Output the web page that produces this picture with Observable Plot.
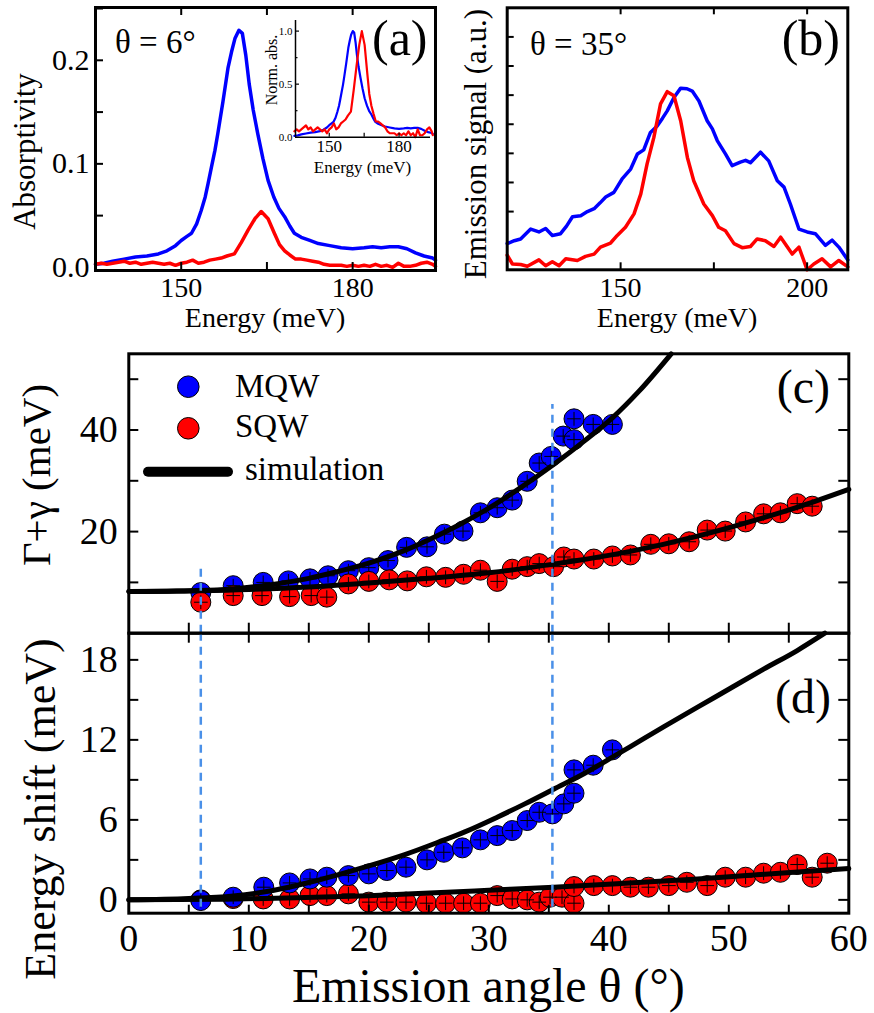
<!DOCTYPE html>
<html><head><meta charset="utf-8">
<script src="https://cdn.jsdelivr.net/npm/d3@7"></script>
<script src="https://cdn.jsdelivr.net/npm/@observablehq/plot@0.6"></script>
<style>
body{margin:0;background:#fff;}
#root{position:relative;width:874px;height:1013px;overflow:hidden;background:#fff;}
</style></head><body><div id="root"></div>
<script>
// ---------------- DATA ----------------
// (a) absorptivity at theta = 6 deg, [energy meV, absorptivity]
const absBlue = [[135,0.003],[136.5,0.004],[138,0.006],[140,0.008],[142,0.010],[144,0.011],[146,0.013],[147.5,0.016],[149,0.021],[150,0.026],[151,0.030],[151.8,0.033],[152.7,0.042],[153.5,0.055],[154.2,0.068],[154.7,0.081],[155.3,0.097],[155.9,0.113],[156.4,0.129],[157.3,0.160],[158.2,0.193],[158.8,0.208],[159.4,0.221],[160.1,0.229],[160.7,0.226],[161.3,0.205],[161.9,0.177],[162.6,0.152],[163.4,0.129],[164.3,0.105],[165.2,0.084],[166.2,0.068],[167.1,0.057],[168.1,0.049],[169,0.040],[169.8,0.033],[171,0.029],[172.5,0.026],[174,0.023],[176,0.021],[178,0.019],[180,0.018],[182,0.019],[183.5,0.020],[185,0.019],[186.5,0.020],[188,0.020],[189.5,0.018],[191,0.014],[192.5,0.011],[194,0.009],[194.5,0.007]];
const absRed = [[135,0.003],[136,0.004],[137,0.003],[138,0.004],[139,0.005],[140,0.006],[141,0.004],[142,0.005],[143,0.003],[144,0.004],[145,0.005],[146,0.004],[147,0.003],[148,0.004],[149,0.002],[150,0.004],[151,0.005],[152,0.007],[153,0.004],[154,0.005],[155,0.007],[156,0.008],[157,0.009],[158,0.011],[159.3,0.013],[160.5,0.024],[161.7,0.036],[162.9,0.047],[164,0.054],[165.2,0.047],[166.3,0.033],[167.2,0.022],[168.1,0.016],[169,0.012],[170,0.008],[171,0.008],[172,0.007],[173,0.006],[174,0.005],[175,0.003],[176,0.002],[177,0.002],[178,0.002],[179,0.001],[180,0.002],[181,0.001],[182,0.002],[183,0.001],[184,0.003],[185,0.001],[186,0.002],[187,0.000],[188,0.004],[189,0.001],[190,0.001],[191,0.002],[192,0.004],[193,0.005],[194,0.003],[194.5,0.001]];
const absXTicks = [150, 180];
const absYTicks = [0, 0.1, 0.2];

// (b) emission at theta = 35 deg, [energy meV, signal a.u.]
const emisBlue = [[119.6,0.45],[121.5,0.50],[123.2,0.53],[125.9,0.70],[128.1,0.65],[129.9,0.71],[131.7,0.59],[133.9,0.62],[135.5,0.75],[137.1,0.91],[139.3,0.93],[141.1,1.00],[142.9,1.05],[144.5,1.15],[146,1.25],[148.2,1.33],[150.4,1.56],[152.7,1.73],[154.5,1.99],[156.2,2.06],[158,2.36],[159.8,2.47],[161.2,2.60],[162.5,2.73],[164.3,2.96],[166.1,3.12],[167.8,3.11],[169.2,3.07],[171,2.90],[173.2,2.56],[174.6,2.42],[175.9,2.22],[178.1,1.99],[179.9,1.79],[182.1,1.85],[183.5,1.88],[184.8,1.84],[187.5,2.02],[189.7,1.87],[192,1.53],[193.8,1.42],[195.5,1.13],[197.8,0.70],[200,0.65],[202.2,0.62],[204.9,0.42],[206.7,0.51],[208.5,0.39],[210.9,0.17]];
const emisRed = [[119.6,0.25],[121,0.10],[123.2,0.09],[125,0.06],[128.1,0.17],[129.9,0.07],[131.7,0.14],[133.5,0.07],[135.3,0.19],[138.4,0.16],[140.6,0.23],[142.9,0.27],[144.6,0.39],[147.3,0.46],[149.1,0.59],[151.3,0.73],[153.6,0.96],[155.4,1.30],[157.1,1.82],[158.9,2.27],[160.7,2.85],[162.5,3.06],[164.3,2.99],[166.1,2.56],[167.9,1.93],[169.6,1.53],[172.3,1.13],[174.6,0.93],[176.3,0.73],[178.1,0.67],[180.4,0.45],[182.6,0.38],[184.8,0.40],[186.6,0.53],[188.8,0.50],[191.1,0.40],[192.9,0.56],[196,0.27],[197.8,0.39],[200,0.00],[201.8,0.10],[204,0.19],[206.3,0.05],[208.5,0.16],[210.9,0.05]];
const emisXTicks = [150, 200];

// (c) linewidth Gamma+gamma (meV) vs emission angle
const mqwAnglesC = [6,8.7,11.2,13.3,15.1,16.6,18.3,20.0,21.6,23.15,24.85,26.3,27.85,29.3,30.7,31.95,33.2,34.2,35.2,36.2,37.1,37.1,38.7,40.3];
const mqwWidth   = [8.0,9.35,10.0,10.3,10.7,11.3,12.3,12.9,14.3,16.9,17.0,19.5,20.1,23.7,24.7,26.2,29.9,33.5,34.8,38.8,38.1,42.2,41.1,41.1];
const sqwAnglesC = [6,8.7,11.1,13.4,15.2,16.5,18.3,20.0,21.7,23.2,24.8,26.4,27.9,29.3,30.7,31.95,33.2,34.2,35.4,36.25,37.1,38.75,40.3,41.8,43.5,45.0,46.7,48.2,49.7,51.4,52.9,54.3,55.7,56.95];
const sqwWidth   = [6.1,7.4,7.4,7.2,7.4,7.1,9.7,10.2,10.5,10.3,11.1,11.0,11.6,12.4,10.2,12.6,13.1,13.7,13.1,15.0,14.6,14.6,15.2,15.4,17.5,17.6,18.0,20.3,20.1,21.9,23.5,23.7,25.5,25.0];
const simWidthMQW = [[0,8.2],[4,8.3],[8,8.6],[12,9.6],[15,10.8],[17,11.9],[20,13.8],[23,16.3],[25,18.4],[27.5,21.3],[30,24.6],[32.5,28.4],[35.4,33.2],[38,37.9],[40.3,42.4],[42.5,47.6],[45.2,55]];
const simWidthSQW = [[0,8.2],[10,8.6],[15,9.1],[20,9.9],[25,10.8],[30,11.9],[35.4,13.6],[41.8,16.1],[47.4,19.1],[52,22.1],[56,25.0],[60,28.3]];

// (d) energy shift (meV) vs emission angle
const mqwAnglesD = [6,8.7,11.25,13.4,15.1,16.5,18.3,20.0,21.5,23.1,24.85,26.25,27.8,29.3,30.7,31.95,33.2,34.2,35.3,36.25,37.1,37.1,38.7,40.3];
const mqwShift   = [-0.05,0.2,0.95,1.27,1.57,1.7,1.82,1.95,2.2,2.45,3.0,3.57,3.9,4.5,4.82,5.2,5.95,6.57,6.45,7.2,8.0,9.75,10.1,11.25];
const sqwAnglesD = [6,8.7,11.2,13.4,15.1,16.5,18.3,20.0,21.5,23.1,24.8,26.4,27.9,29.3,30.7,31.95,33.2,34.2,35.1,36.1,37.1,37.1,38.75,40.3,41.8,43.3,45.0,46.5,48.2,49.7,51.4,52.9,54.3,55.7,56.95,58.2];
const sqwShift   = [0,0.1,0.07,0.07,0.32,0.32,0.45,-0.17,-0.17,-0.17,-0.25,-0.25,-0.25,-0.25,0.32,0.07,0,-0.17,0.2,0.2,-0.25,1.0,1.07,1.07,0.95,0.95,1.07,1.32,1.07,1.7,1.7,2.0,2.07,2.65,1.7,2.75];
const simShiftMQW = [[0,0],[5,0.1],[8.7,0.3],[12,0.7],[15,1.3],[17.1,1.8],[20,2.55],[23,3.4],[26,4.4],[28,5.1],[30.7,6.2],[33,7.2],[35.4,8.3],[38,9.5],[40.3,10.7],[41.8,11.5],[44.6,13.0],[47.4,14.45],[50.1,15.85],[52.9,17.3],[55.7,18.7],[58,20]];
const simShiftSQW = [[0,0],[8,0.05],[14,0.15],[20,0.3],[26,0.55],[30,0.72],[35.4,0.95],[41,1.22],[47.4,1.57],[53,1.92],[60,2.35]];

// marked angles (dashed guides) with the height they reach in (c)
const guideAngles = [6, 35.3];
const guideTopC = [12.7, 45];

const angleTicks = [0,10,20,30,40,50,60];
const widthTicks = [20,40];
const shiftTicks = [0,6,12,18];

// ---------------- HELPERS ----------------
const root = document.getElementById("root");
const FONT = "'Liberation Serif','Times New Roman',serif";
const BLUE = "#0000ff", RED = "#ff0000", GUIDE = "#4a90e8";
const baseStyle = {fontFamily: FONT, background: "transparent", overflow: "visible", color: "black"};
function put(svg, left, top) {
  svg.style.position = "absolute"; svg.style.left = left + "px"; svg.style.top = top + "px";
  root.appendChild(svg);
}
function ticksX(vals, side, len, innerH, sw = 2) {
  return Plot.tickX(vals, {x: d => d, stroke: "black", strokeWidth: sw,
    insetTop: side === "bottom" ? innerH - len : 0,
    insetBottom: side === "top" ? innerH - len : 0});
}
function ticksY(vals, side, len, innerW, sw = 2) {
  return Plot.tickY(vals, {y: d => d, stroke: "black", strokeWidth: sw,
    insetRight: side === "left" ? innerW - len : 0,
    insetLeft: side === "right" ? innerW - len : 0});
}
const zip = (xs, ys) => xs.map((x, i) => ({x, y: ys[i]}));
const range = (a, b, s) => d3.range(a, b + s / 2, s);

// ---------------- PANEL (a) ----------------
{
  const W = 440, H = 340, mL = 95, mR = 5, mT = 7, mB = 70;
  const iw = W - mL - mR, ih = H - mT - mB;
  put(Plot.plot({
    width: W, height: H, marginLeft: mL, marginRight: mR, marginTop: mT, marginBottom: mB,
    x: {domain: [135, 194.5]}, y: {domain: [-0.003, 0.251]}, style: baseStyle,
    marks: [
      Plot.line(absBlue, {x: d => d[0], y: d => d[1], stroke: BLUE, strokeWidth: 3.5}),
      Plot.line(absRed, {x: d => d[0], y: d => d[1], stroke: RED, strokeWidth: 3.5}),
      ticksX([150, 165, 180], "bottom", 8, ih), ticksX([150, 165, 180], "top", 8, ih),
      ticksY(range(0.05, 0.25, 0.05), "left", 8, iw),
      Plot.frame({stroke: "black", strokeWidth: 3}),
      Plot.axisX({ticks: absXTicks, tickSize: 0, tickPadding: 7, fontSize: 28, label: null}),
      Plot.axisY({ticks: absYTicks, tickFormat: d3.format(".1f"), tickSize: 0, tickPadding: 6, fontSize: 30, label: null})
    ]
  }), 0, 0);

  // inset: normalised absorption
  const bMax = d3.max(absBlue, d => d[1]), rMax = d3.max(absRed, d => d[1]);
  const nBlue = absBlue.map(d => [d[0], d[1] / bMax]);
  const nRed = absRed.map(d => [d[0], d[1] / rMax]);
  const IW = 180, IH = 175, imL = 40, imR = 5, imT = 10, imB = 48.3;
  const xd = [135.5, 193.5];
  put(Plot.plot({
    width: IW, height: IH, marginLeft: imL, marginRight: imR, marginTop: imT, marginBottom: imB,
    x: {domain: xd}, y: {domain: [0, 1.1]}, style: baseStyle,
    marks: [
      Plot.line(nBlue, {x: d => d[0], y: d => d[1], stroke: BLUE, strokeWidth: 2.2}),
      Plot.line(nRed, {x: d => d[0], y: d => d[1], stroke: RED, strokeWidth: 2.2}),
      Plot.ruleY([0], {stroke: "black", strokeWidth: 1.5}),
      Plot.ruleX([xd[0]], {stroke: "black", strokeWidth: 1.5}),
      ticksY([0.5, 1.0], "left", 4, IW - imL - imR, 1.2),
      ticksY([0.25, 0.75], "left", 2.5, IW - imL - imR, 1.2),
      ticksX([150, 165, 180], "bottom", 4, IH - imT - imB, 1.2),
      Plot.axisX({ticks: [150, 180], tickSize: 0, tickPadding: 3, fontSize: 17, label: null}),
      Plot.axisY({ticks: [0, 0.5, 1.0], tickFormat: d3.format(".1f"), tickSize: 0, tickPadding: 3, fontSize: 11, label: null})
    ]
  }), 255, 10);
}

// ---------------- PANEL (b) ----------------
{
  const W = 434, H = 340, mL = 66.7, mR = 26.7, mT = 7.3, mB = 70.7;
  const iw = W - mL - mR, ih = H - mT - mB;
  put(Plot.plot({
    width: W, height: H, marginLeft: mL, marginRight: mR, marginTop: mT, marginBottom: mB,
    x: {domain: [119.6, 210.9]}, y: {domain: [0, 4.5], axis: null}, style: baseStyle,
    marks: [
      Plot.line(emisBlue, {x: d => d[0], y: d => d[1], stroke: BLUE, strokeWidth: 3.5}),
      Plot.line(emisRed, {x: d => d[0], y: d => d[1], stroke: RED, strokeWidth: 3.5}),
      ticksX([150, 175, 200], "bottom", 7, ih), ticksX([150, 175, 200], "top", 7, ih),
      ticksY(range(1, 4, 0.5), "left", 7, iw),
      Plot.frame({stroke: "black", strokeWidth: 3}),
      Plot.axisX({ticks: emisXTicks, tickSize: 0, tickPadding: 7, fontSize: 28, label: null})
    ]
  }), 440, 0);
}

// ---------------- PANEL (c) ----------------
{
  const W = 874, H = 300, mL = 128.3, mR = 25.7, mT = 13.3, mB = 7.3;
  const iw = W - mL - mR, ih = H - mT - mB;
  const mqw = zip(mqwAnglesC, mqwWidth), sqw = zip(sqwAnglesC, sqwWidth);
  const guides = guideAngles.map((a, i) => ({a, top: guideTopC[i]}));
  put(Plot.plot({
    width: W, height: H, marginLeft: mL, marginRight: mR, marginTop: mT, marginBottom: mB,
    x: {domain: [0, 60], axis: null}, y: {domain: [0, 55]}, style: baseStyle,
    marks: [
      Plot.dot(mqw, {x: "x", y: "y", r: 10, fill: BLUE, stroke: "black", strokeWidth: 1}),
      Plot.dot(mqw, {x: "x", y: "y", symbol: "plus", r: 4.5, stroke: "black", strokeWidth: 1}),
      Plot.dot(sqw, {x: "x", y: "y", r: 10, fill: RED, stroke: "black", strokeWidth: 1}),
      Plot.dot(sqw, {x: "x", y: "y", symbol: "plus", r: 4.5, stroke: "black", strokeWidth: 1}),
      Plot.line(simWidthMQW, {x: d => d[0], y: d => d[1], stroke: "black", strokeWidth: 5, curve: "monotone-x"}),
      Plot.line(simWidthSQW, {x: d => d[0], y: d => d[1], stroke: "black", strokeWidth: 5, curve: "monotone-x"}),
      Plot.ruleX(guides, {x: "a", y1: 0, y2: "top", stroke: GUIDE, strokeWidth: 2.5, strokeDasharray: "8,6"}),
      ticksX(range(5, 55, 5), "bottom", 10, ih),
      ticksY(range(10, 50, 10), "left", 10, iw), ticksY(range(10, 50, 10), "right", 10, iw),
      Plot.frame({stroke: "black", strokeWidth: 3}),
      Plot.axisY({ticks: widthTicks, tickSize: 0, tickPadding: 11, fontSize: 38, label: null})
    ]
  }), 0, 340);
}

// ---------------- PANEL (d) ----------------
{
  const W = 874, H = 393, mL = 128.3, mR = 25.7, mT = 12.7, mB = 100.3;
  const iw = W - mL - mR, ih = H - mT - mB;
  const mqw = zip(mqwAnglesD, mqwShift), sqw = zip(sqwAnglesD, sqwShift);
  put(Plot.plot({
    width: W, height: H, marginLeft: mL, marginRight: mR, marginTop: mT, marginBottom: mB,
    x: {domain: [0, 60]}, y: {domain: [-1, 20]}, style: baseStyle,
    marks: [
      Plot.dot(sqw, {x: "x", y: "y", r: 10, fill: RED, stroke: "black", strokeWidth: 1}),
      Plot.dot(sqw, {x: "x", y: "y", symbol: "plus", r: 4.5, stroke: "black", strokeWidth: 1}),
      Plot.dot(mqw, {x: "x", y: "y", r: 10, fill: BLUE, stroke: "black", strokeWidth: 1}),
      Plot.dot(mqw, {x: "x", y: "y", symbol: "plus", r: 4.5, stroke: "black", strokeWidth: 1}),
      Plot.line(simShiftMQW, {x: d => d[0], y: d => d[1], stroke: "black", strokeWidth: 5, curve: "monotone-x"}),
      Plot.line(simShiftSQW, {x: d => d[0], y: d => d[1], stroke: "black", strokeWidth: 5, curve: "monotone-x"}),
      Plot.ruleX(guideAngles, {x: d => d, stroke: GUIDE, strokeWidth: 2.5, strokeDasharray: "8,6"}),
      ticksX(range(5, 55, 5), "bottom", 8, ih), ticksX(range(5, 55, 5), "top", 10, ih),
      ticksY(range(0, 18, 3), "left", 10, iw), ticksY(range(0, 18, 3), "right", 10, iw),
      Plot.frame({stroke: "black", strokeWidth: 3}),
      Plot.axisX({ticks: angleTicks, tickSize: 0, tickPadding: 11, fontSize: 38, label: null}),
      Plot.axisY({ticks: shiftTicks, tickSize: 0, tickPadding: 11, fontSize: 38, label: null})
    ]
  }), 0, 620);
}

// ---------------- TEXT OVERLAY (titles, annotations, legend) ----------------
const ov = d3.create("svg").attr("width", 874).attr("height", 1013)
  .style("position", "absolute").style("left", "0px").style("top", "0px")
  .style("font-family", FONT).style("pointer-events", "none");
function txt(s, x, y, size, anchor = "start", rotate = false) {
  const t = ov.append("text").attr("x", x).attr("y", y).attr("font-size", size)
    .attr("text-anchor", anchor).attr("fill", "black").text(s);
  if (rotate) t.attr("transform", `rotate(-90,${x},${y})`);
  return t;
}
// panel (a)
txt("Absorptivity", 35, 151.5, 31, "middle", true);
txt("Energy (meV)", 265, 327, 28, "middle");
txt("θ = 6°", 115, 53, 33);
txt("(a)", 372, 55, 50);
txt("Norm. abs.", 277, 70, 16, "middle", true);
txt("Energy (meV)", 362.5, 173, 17, "middle");
// panel (b)
txt("Emission signal (a.u.)", 486, 144, 31, "middle", true);
txt("Energy (meV)", 677, 327, 28, "middle");
txt("θ = 35°", 530, 55, 33);
txt("(b)", 781.7, 55, 50);
// panel (c)
txt("Γ+γ (meV)", 50, 475, 41, "middle", true);
txt("(c)", 776.7, 403, 48);
// panel (d)
txt("Energy shift (meV)", 55, 809, 44, "middle", true);
txt("(d)", 775, 713, 48);
txt("Emission angle θ (°)", 488.3, 1002, 48, "middle");
// legend
const legend = [
  {label: "MQW", color: BLUE, cy: 386.7, base: 396.7},
  {label: "SQW", color: RED, cy: 428.3, base: 436.7}
];
legend.forEach(l => {
  ov.append("circle").attr("cx", 188.3).attr("cy", l.cy).attr("r", 10.8)
    .attr("fill", l.color).attr("stroke", "black").attr("stroke-width", 1);
  txt(l.label, 235, l.base, 33);
});
ov.append("line").attr("x1", 148).attr("x2", 228).attr("y1", 471.7).attr("y2", 471.7)
  .attr("stroke", "black").attr("stroke-width", 10).attr("stroke-linecap", "round");
txt("simulation", 245, 480, 33);
root.appendChild(ov.node());
</script></body></html>
